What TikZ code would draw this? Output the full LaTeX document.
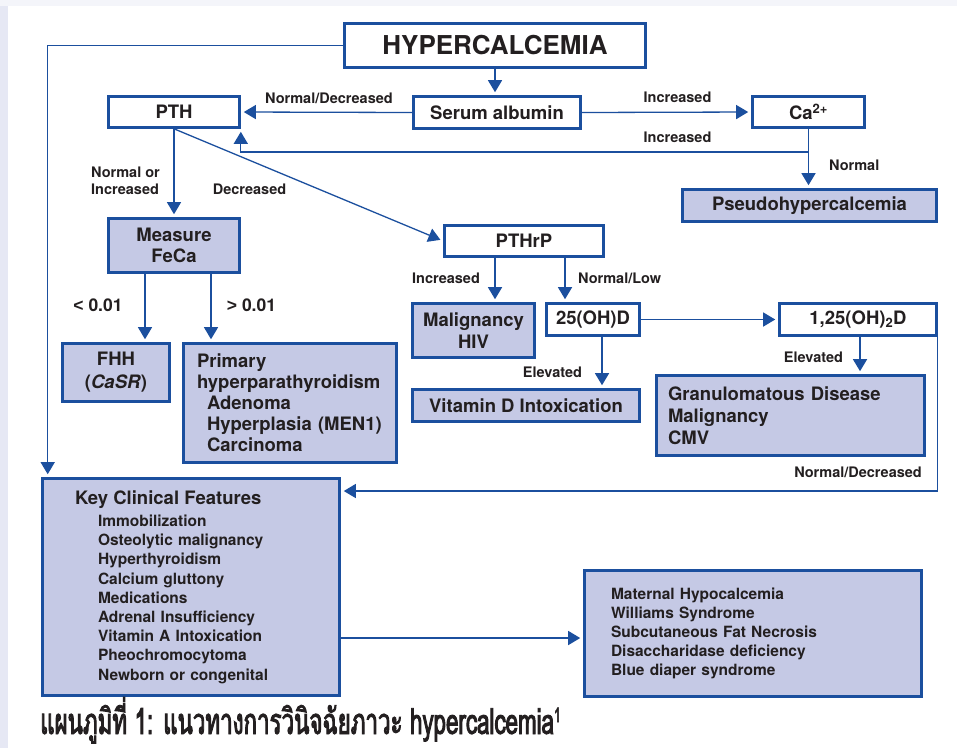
\documentclass[tikz,border=0pt]{standalone}
\usepackage{fontspec}
\setmainfont{TeX Gyre Heros}
\newfontfamily\signfont{Liberation Sans}
\newfontfamily\thaifont[Script=Thai, FakeStretch=0.62, FakeBold=2.5]{Loma}
\usepackage{tikz}
\usetikzlibrary{arrows.meta}

\definecolor{boxblue}{HTML}{1B4F9E}
\definecolor{boxfill}{HTML}{C5C9E5}
\definecolor{inktext}{HTML}{231F20}
\definecolor{stripleft}{HTML}{E6E8F4}
\definecolor{striptop}{HTML}{F4F5FA}

\begin{document}
\begin{tikzpicture}[x=1pt, y=-1pt,
    box/.style={draw=boxblue, line width=2.6pt, rectangle, fill=white, text=inktext,
        inner sep=0pt, align=center, font=\bfseries\fontsize{18.5}{22}\selectfont},
    shaded/.style={box, fill=boxfill},
    lbl/.style={text=inktext, inner sep=0pt, font=\bfseries\fontsize{14.5}{17}\selectfont},
    link/.style={draw=boxblue, line width=1.3pt, shorten >=3pt, -{Triangle[length=12pt,width=14pt]}}]

    \fill[white] (0,0) rectangle (957,748);
    \fill[striptop] (0,0) rectangle (957,6);
    \fill[stripleft] (0,6) rectangle (8,748);
    \useasboundingbox (0,0) rectangle (957,748);

    \node[box, minimum width=301pt, minimum height=44pt, font=\bfseries\fontsize{26}{30}\selectfont] (hyper) at (495,45.5) {HYPERCALCEMIA};
    \node[box, minimum width=167pt, minimum height=32pt] (albumin) at (497,112.5) {Serum albumin};
    \node[box, minimum width=131pt, minimum height=31pt] (pth) at (174,112) {PTH};
    \node[box, minimum width=112pt, minimum height=31pt] (ca) at (808.5,112) {Ca\textsuperscript{\fontsize{13}{13}\selectfont 2+}};
    \node[shaded, minimum width=254pt, minimum height=32pt] (pseudo) at (809.5,205.5) {Pseudohypercalcemia};
    \node[shaded, minimum width=131pt, minimum height=54pt, font=\bfseries\fontsize{18.5}{21}\selectfont] (feca) at (174,245.5) {Measure\\FeCa};
    \node[box, minimum width=159pt, minimum height=31pt] (pthrp) at (524,241) {PTHrP};
    \node[shaded, minimum width=122pt, minimum height=54pt] (malig) at (473.5,330.5) {Malignancy\\HIV};
    \node[box, minimum width=93pt, minimum height=32pt] (ohd) at (593,319.5) {25(OH)D};
    \node[box, minimum width=157pt, minimum height=32pt] (dihyd) at (858,319.5) {1,25(OH)\textsubscript{2}D};
    \node[shaded, minimum width=227pt, minimum height=32pt] (vitd) at (526,405.5) {Vitamin D Intoxication};
    \node[shaded, minimum width=268pt, minimum height=80pt, align=left, text width=245pt] (gran) at (790.5,415.5)
        {Granulomatous Disease\\Malignancy\\CMV};
    \node[shaded, minimum width=107pt, minimum height=58pt, font=\bfseries\fontsize{18.5}{23}\selectfont] (fhh) at (116,372.5)
        {FHH\\(\textit{CaSR})};
    \node[shaded, minimum width=213pt, minimum height=119pt, align=left, text width=186pt,
        font=\bfseries\fontsize{18.5}{21}\selectfont] (primary) at (290,403)
        {Primary\\hyperparathyroidism\\\hspace*{10pt}Adenoma\\\hspace*{10pt}Hyperplasia (MEN1)\\\hspace*{10pt}Carcinoma};
    \node[shaded, minimum width=297pt, minimum height=217pt, align=left, text width=232pt,
        font=\bfseries\fontsize{15.5}{19.2}\selectfont] (key) at (191,587)
        {{\fontsize{18.5}{22}\selectfont Key Clinical Features}\\[3pt]
         \hspace*{23pt}Immobilization\\
         \hspace*{23pt}Osteolytic malignancy\\
         \hspace*{23pt}Hyperthyroidism\\
         \hspace*{23pt}Calcium gluttony\\
         \hspace*{23pt}Medications\\
         \hspace*{23pt}Adrenal Insufficiency\\
         \hspace*{23pt}Vitamin A Intoxication\\
         \hspace*{23pt}Pheochromocytoma\\
         \hspace*{23pt}Newborn or congenital};
    \node[shaded, minimum width=337pt, minimum height=126pt, align=left, text width=284pt,
        font=\bfseries\fontsize{15.5}{19.2}\selectfont] (neonatal) at (753,633.5)
        {Maternal Hypocalcemia\\Williams Syndrome\\Subcutaneous Fat Necrosis\\Disaccharidase deficiency\\Blue diaper syndrome};

    \coordinate (split) at (ca.south |- 0,152);
    \coordinate (loop) at (dihyd.south east |- 0,491);

    \draw[link] (hyper.west) -| ([xshift=6.5pt]key.north west);
    \draw[link] (hyper.south) -- (hyper.south |- albumin.north);
    \draw[link] (albumin.west) -- (pth.east);
    \draw[link] (albumin.east) -- (ca.west);
    \draw[link] (ca.south) -- (ca.south |- pseudo.north);
    \draw[link] (split) -| (pth.south east);
    \draw[link] (pth.south) -- (feca.north);
    \draw[link] (pth.south) -- (pthrp.west);
    \draw[link] ([xshift=-29pt]feca.south) -- ([xshift=-29pt]feca.south |- fhh.north);
    \draw[link] ([xshift=37pt]feca.south) -- ([xshift=37pt]feca.south |- primary.north);
    \draw[link] ([xshift=-29pt]pthrp.south) -- ([xshift=-29pt]pthrp.south |- malig.north);
    \draw[link] ([xshift=41pt]pthrp.south) -- ([xshift=41pt]pthrp.south |- ohd.north);
    \draw[link] (ohd.east) -- (dihyd.west);
    \draw[link] ([xshift=9pt]ohd.south) -- ([xshift=9pt]ohd.south |- vitd.north);
    \draw[link] ([xshift=2pt]dihyd.south) -- ([xshift=2pt]dihyd.south |- gran.north);
    \draw[link] (dihyd.south east) -- (loop) -- (loop -| key.east);
    \draw[link] (key.east |- 0,638) -- (neonatal.west |- 0,638);

    \node[lbl, anchor=base] (ndtop) at (329,103) {Normal/Decreased};
    \node[lbl, anchor=base] (incca) at (677.5,102) {Increased};
    \node[lbl, anchor=base] (incpth) at (677.5,142) {Increased};
    \node[lbl, anchor=base west] (norm) at (829,170) {Normal};
    \node[lbl, anchor=north west, align=left] (normor) at (91,166.5) {Normal or\\Increased};
    \node[lbl, anchor=base] (decr) at (249.5,194) {Decreased};
    \node[lbl, anchor=base, font=\bfseries\fontsize{17.5}{20}\selectfont] (lowfe) at (98,311.5) {{\signfont\bfseries <} 0.01};
    \node[lbl, anchor=base, font=\bfseries\fontsize{17.5}{20}\selectfont] (highfe) at (251.5,311.5) {{\signfont\bfseries >} 0.01};
    \node[lbl, anchor=base] (incrp) at (446,283) {Increased};
    \node[lbl, anchor=base west] (normlow) at (578,283) {Normal/Low};
    \node[lbl, anchor=base] (elevd) at (552.5,377.5) {Elevated};
    \node[lbl, anchor=base] (elevdi) at (813.5,362) {Elevated};
    \node[lbl, anchor=base east] (ndbot) at (922,477) {Normal/Decreased};

    \node[anchor=base west, inner sep=0pt, text=inktext, font=\thaifont\fontsize{36}{40}\selectfont] (caption) at (40,734)
        {แผนภูมิที่ 1: แนวทางการวินิจฉัยภาวะ hypercalcemia\raisebox{12pt}{\fontsize{20}{20}\selectfont 1}};
\end{tikzpicture}
\end{document}
